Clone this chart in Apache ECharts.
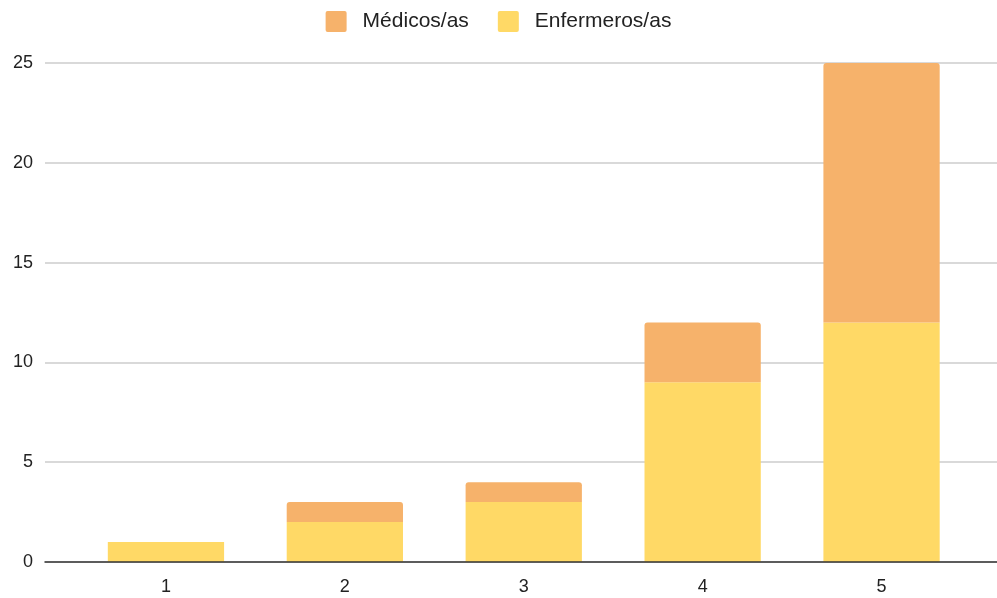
<!DOCTYPE html>
<html>
<head>
<meta charset="utf-8">
<script src="https://cdn.jsdelivr.net/npm/echarts@6/dist/echarts.min.js"></script>
<style>
html,body{margin:0;padding:0;background:#fff;}
#chart{width:997px;height:598px;}
</style>
</head>
<body>
<div id="chart"></div>
<script>
var categories = ['1', '2', '3', '4', '5'];
var enfermeros = [1, 2, 3, 9, 12];
var medicos = [0, 1, 1, 3, 13];
var yTicks = { min: 0, max: 25, interval: 5 };

var chart = echarts.init(document.getElementById('chart'));
var font = 'Liberation Sans, Arial, sans-serif';
chart.setOption({
  animation: false,
  textStyle: { fontFamily: font },
  legend: {
    data: ['Médicos/as', 'Enfermeros/as'],
    top: 6,
    left: 'center',
    itemWidth: 21,
    itemHeight: 21,
    itemGap: 29,
    icon: 'path://M2,0 L19,0 Q21,0 21,2 L21,19 Q21,21 19,21 L2,21 Q0,21 0,19 L0,2 Q0,0 2,0 Z',
    textStyle: { fontSize: 21, color: '#222', fontFamily: font, padding: [0, 0, 0, 11] }
  },
  grid: [
    { left: 45, right: 0, top: 63, bottom: 36, containLabel: false },
    { left: 76.5, right: 26, top: 63, bottom: 36, containLabel: false }
  ],
  xAxis: [
    { gridIndex: 0, type: 'category', data: [''], axisLine: { lineStyle: { color: '#333', width: 1.5 } }, axisTick: { show: false }, axisLabel: { show: false }, z: 10 },
    { gridIndex: 1, type: 'category', data: categories, axisLine: { show: false }, axisTick: { show: false },
      axisLabel: { fontSize: 18, color: '#222', margin: 16, fontFamily: font } }
  ],
  yAxis: [
    { gridIndex: 0, type: 'value', min: yTicks.min, max: yTicks.max, interval: yTicks.interval,
      axisLine: { show: false }, axisTick: { show: false },
      axisLabel: { fontSize: 18, color: '#222', margin: 12, fontFamily: font },
      splitLine: { lineStyle: { color: '#cccccc', width: 1.5 } } },
    { gridIndex: 1, type: 'value', min: yTicks.min, max: yTicks.max, interval: yTicks.interval,
      axisLine: { show: false }, axisTick: { show: false }, axisLabel: { show: false }, splitLine: { show: false } }
  ],
  series: [
    { name: 'Enfermeros/as', type: 'bar', stack: 'total', xAxisIndex: 1, yAxisIndex: 1,
      data: enfermeros, barWidth: '65%', itemStyle: { color: '#FFD966' } },
    { name: 'Médicos/as', type: 'bar', stack: 'total', xAxisIndex: 1, yAxisIndex: 1,
      data: medicos, barWidth: '65%', itemStyle: { color: '#F6B26B', borderRadius: [3, 3, 0, 0] } }
  ]
});
</script>
</body>
</html>
